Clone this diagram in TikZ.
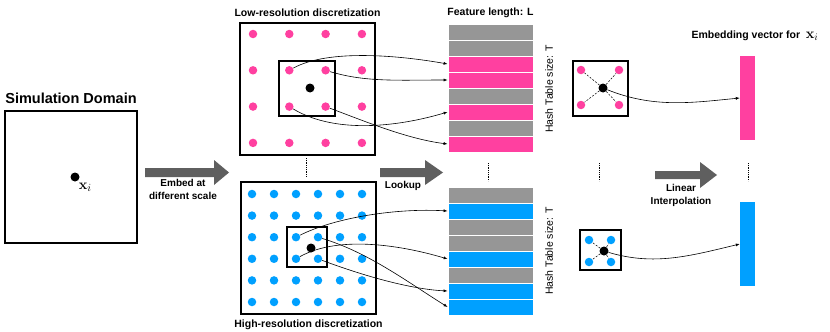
\documentclass[tikz,border=0pt]{standalone}
\usepackage[no-math]{fontspec}
\setmainfont{Liberation Sans}
\usetikzlibrary{positioning, arrows.meta}
\definecolor{hashpink}{RGB}{255,64,160}
\definecolor{hashblue}{RGB}{0,160,255}
\definecolor{hashgray}{RGB}{150,150,150}
\definecolor{arrowgray}{RGB}{95,95,95}
\begin{document}
\begin{tikzpicture}[
	x=1pt, y=-1pt,
	frame/.style={
		rectangle,
		draw=black,
		line width=1.3pt,
		inner sep=0pt
	},
	pdot/.style={circle, fill=hashpink, inner sep=0pt, minimum size=8.5pt},
	bdot/.style={circle, fill=hashblue, inner sep=0pt, minimum size=8.5pt},
	kdot/.style={circle, fill=black, inner sep=0pt, minimum size=9pt},
	cell/.style={
		rectangle,
		draw=white,
		line width=0.8pt,
		minimum width=85pt,
		minimum height=16pt,
		inner sep=0pt
	},
	bar/.style={rectangle, inner sep=0pt, minimum width=15pt, minimum height=84pt},
	heading/.style={font=\bfseries\fontsize{10.5}{12}\selectfont},
	note/.style={font=\bfseries\fontsize{10}{13}\selectfont, align=center},
	link/.style={
		-{Latex[length=4pt,width=3pt]},
		line width=0.6pt
	},
	fat/.style={fill=arrowgray},
	vdots/.style={line width=0.8pt, dash pattern=on 0.8pt off 1pt},
	guess/.style={dash pattern=on 2pt off 1.5pt, line width=0.5pt}
	]
	\useasboundingbox (0,0) rectangle (830,332);
	% simulation domain
	\node[frame, minimum width=132pt, minimum height=132pt] (domain) at (71,177) {};
	\node[font=\bfseries\fontsize{14.5}{17}\selectfont, above=3pt of domain] (domtitle)
	{Simulation Domain};
	\node[kdot] (xi) at (75,177) {};
	\node[font=\fontsize{15}{17}\selectfont, below right=-1pt and -3pt of xi] (xilabel) {$\mathbf{x}_i$};
	
	% discretizations
	\node[frame, minimum width=135pt, minimum height=132pt] (lowbox) at (307.5,89) {};
	\node[frame, minimum width=135pt, minimum height=132pt] (highbox) at (308.5,248) {};
	\node[heading, above=2pt of lowbox] (lowtitle) {Low-resolution discretization};
	\node[heading, below=2pt of highbox] (hightitle) {High-resolution discretization};
	\node[frame, minimum width=56pt, minimum height=55pt] (lowcell) at (307,88.5) {};
	\node[frame, minimum width=40pt, minimum height=40pt] (highcell) at (307,247) {};
	\foreach \i in {1,...,4}
		\foreach \j in {1,...,4}
			\node[pdot] (lo-\i-\j) at ({253+36.3*(\i-1)}, {34+36.3*(\j-1)}) {};
	\foreach \i in {1,...,6}
		\foreach \j in {1,...,6}
			\node[bdot] (hi-\i-\j) at ({252+22*(\i-1)}, {194+21.6*(\j-1)}) {};
	\node[kdot] (lox) at (310,88) {};
	\node[kdot] (hix) at (311,248) {};
	\draw[vdots] (306,158) -- (306,177);
	
	% hash tables
	\foreach \c [count=\i] in {hashgray,hashgray,hashpink,hashpink,hashgray,hashpink,hashgray,hashpink}
		\node[cell, fill=\c] (tr\i) at (490.5,{16+16*\i}) {};
	\foreach \c [count=\i] in {hashgray,hashblue,hashgray,hashgray,hashblue,hashgray,hashblue,hashblue}
		\node[cell, fill=\c] (br\i) at (490.5,{179+16*\i}) {};
	\node[heading, above=2pt of tr1] (featlen) {Feature length: L};
	\node[font=\fontsize{10.5}{12}\selectfont, rotate=90] (tsize1) at (549,89) {Hash Table size: T};
	\node[font=\fontsize{10.5}{12}\selectfont, rotate=90] (tsize2) at (549,251) {Hash Table size: T};
	\draw[vdots] (488,163) -- (488,181);
	
	% lookups
	\draw[link] (lo-2-2) .. controls +(40,-22) and +(-45,-8) .. (tr3.west);
	\draw[link] (lo-3-2) .. controls +(40,12) and +(-50,0) .. (tr4.west);
	\draw[link] (lo-2-3) .. controls +(50,30) and +(-40,12) .. (tr6.west);
	\draw[link] (lo-3-3) .. controls +(40,15) and +(-40,-5) .. (tr8.west);
	\draw[link] (hi-3-3) .. controls +(40,-20) and +(-50,-3) .. (br2.west);
	\draw[link] (hi-3-4) .. controls +(45,-25) and +(-40,-12) .. (br5.west);
	\draw[link] (hi-4-3) .. controls +(50,15) and +(-40,-25) .. (br8.west);
	\draw[link] (hi-4-4) .. controls +(40,15) and +(-40,-2) .. (br7.west);
	
	% interpolation
	\node[frame, minimum width=55pt, minimum height=55pt] (pinkcell) at (600.5,88.5) {};
	\node[pdot] (pc1) at (581,70) {};
	\node[pdot] (pc2) at (619,70) {};
	\node[pdot] (pc3) at (581,105) {};
	\node[pdot] (pc4) at (619,105) {};
	\node[kdot] (pk) at (603,88) {};
	\foreach \n in {pc1,pc2,pc3,pc4}
		\draw[guess] (pk) -- (\n);
	\node[frame, minimum width=41pt, minimum height=40pt] (bluecell) at (600.5,250) {};
	\node[bdot] (bc1) at (589,240) {};
	\node[bdot] (bc2) at (611,240) {};
	\node[bdot] (bc3) at (589,262) {};
	\node[bdot] (bc4) at (611,262) {};
	\node[kdot] (bk) at (604,251) {};
	\foreach \n in {bc1,bc2,bc3,bc4}
		\draw[guess] (bk) -- (\n);
	\draw[vdots] (599,163) -- (599,181);
	
	% embedding vectors
	\node[bar, fill=hashpink] (vpink) at (747.5,98) {};
	\node[bar, fill=hashblue] (vblue) at (747.5,244) {};
	\node[heading] (embtitle) at (755,36) {Embedding vector for\ \ \fontsize{14}{16}\selectfont$\mathbf{x}_i$};
	\draw[vdots] (748,163) -- (748,181);
	\draw[link] (pk) .. controls +(50,20) and +(-50,5) .. (vpink.west);
	\draw[link] (bk) .. controls +(50,15) and +(-50,12) .. (vblue.west);
	
	% big arrows
	\fill[fat] (145,168) -- ++(69,0) -- ++(0,-8) -- ++(15,12.5) -- ++(-15,12.5) -- ++(0,-8) -- ++(-69,0) -- cycle;
	\fill[fat] (380,168) -- ++(45,0) -- ++(0,-8) -- ++(18,12.5) -- ++(-18,12.5) -- ++(0,-8) -- ++(-45,0) -- cycle;
	\fill[fat] (655,171) -- ++(45,0) -- ++(0,-9) -- ++(17,13) -- ++(-17,13) -- ++(0,-9) -- ++(-45,0) -- cycle;
	\node[note] (embed) at (183,189.5) {Embed at\\different scale};
	\node[note] (lookup) at (403,185.5) {Lookup};
	\node[note] (interp) at (681,195.5) {Linear\\Interpolation};
\end{tikzpicture}
\end{document}
